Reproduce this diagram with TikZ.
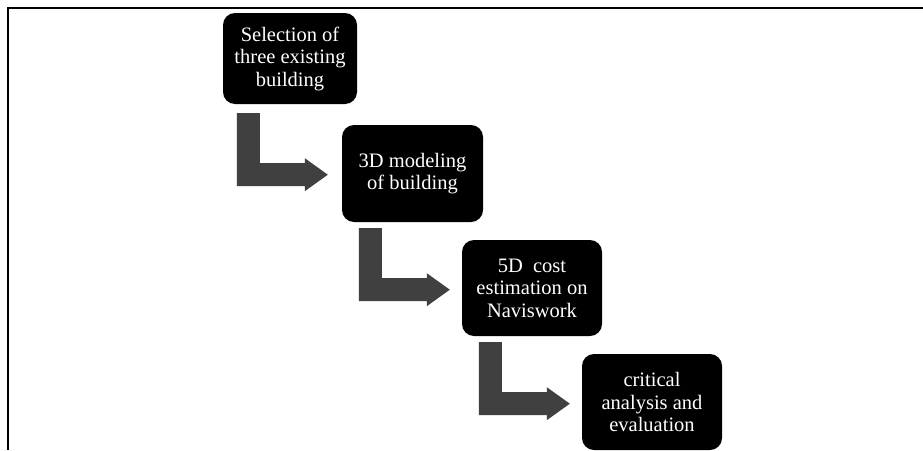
\documentclass[tikz,border=0pt]{standalone}
\usepackage{fontspec}
\setmainfont{Liberation Serif}
\usetikzlibrary{calc}
\definecolor{arrowgray}{HTML}{404040}
\tikzset{
  stepbox/.style={fill=black, text=white, rounded corners=12pt, align=center,
    inner sep=0pt, font=\fontsize{20.5}{22.5}\selectfont},
  bentarrow/.pic={
    \fill[arrowgray] (0,0) -- (23,0) -- (23,50) -- (68,50) -- (68,45)
      -- (91,61.5) -- (68,78) -- (68,73) -- (0,73) -- cycle;
  }
}
\begin{document}
\begin{tikzpicture}[x=1pt,y=-1pt]
\useasboundingbox (0,0) rectangle (923,450);
\fill[white] (0,0) rectangle (923,450);
% frame
\draw[line width=2pt] (8,450) -- (8,8) -- (923,8);
% boxes
\node[stepbox, minimum width=134pt, minimum height=91pt] (b1) at (290,58.5)
  {Selection of\\three existing\\building};
\node[stepbox, minimum width=141pt, minimum height=97pt] (b2) at (412.5,173.5)
  {3D modeling\\of building};
\node[stepbox, minimum width=140pt, minimum height=96pt] (b3) at (532,288)
  {5D\ \ cost\\estimation on\\Naviswork};
\node[stepbox, minimum width=140pt, minimum height=96pt] (b4) at (652,402)
  {critical\\analysis and\\evaluation};
% bent arrows
\pic at ($(b1.south west)+(14,9)$) {bentarrow};
\pic at ($(b2.south west)+(17,6)$) {bentarrow};
\pic at ($(b3.south west)+(17,6)$) {bentarrow};
\end{tikzpicture}
\end{document}
